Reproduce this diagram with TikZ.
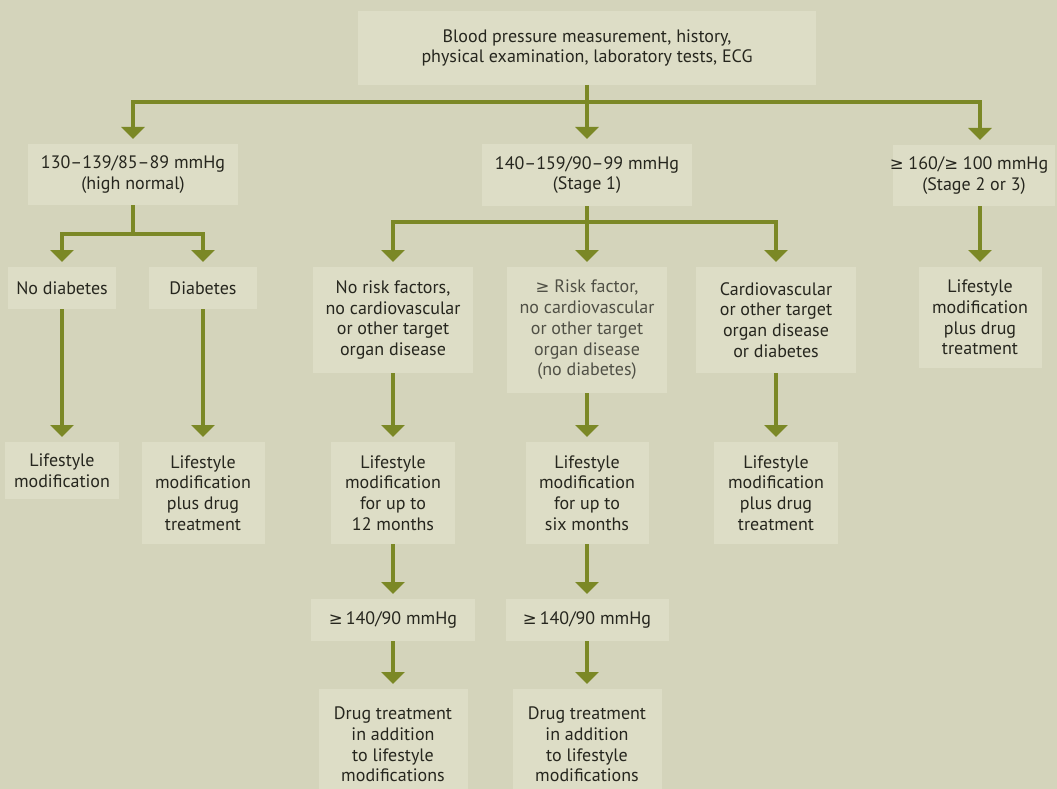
\documentclass[tikz,border=0pt]{standalone}
\usepackage{fontspec}
\setmainfont{PT Sans}
\newfontfamily\dvsym[Scale=0.92]{DejaVu Sans}
\newcommand\mygeq{{\dvsym ≥}}
\usetikzlibrary{arrows.meta}
\definecolor{bgc}{RGB}{212,212,187}
\definecolor{boxc}{RGB}{221,221,198}
\definecolor{arrc}{RGB}{123,136,38}
\definecolor{txtc}{RGB}{38,38,30}
\definecolor{greytxt}{RGB}{80,80,70}
\tikzset{
  box/.style={fill=boxc, draw=none, inner sep=0pt, align=center, text=txtc,
    font=\fontsize{18}{20.7}\selectfont, outer sep=0pt},
  arr/.style={draw=arrc, line width=4.5pt, shorten >=5pt,
    -{Triangle[width=23pt,length=12pt]}},
}
\begin{document}
\begin{tikzpicture}[x=1pt,y=-1pt]
\clip (0,0) rectangle (1057,789);
\fill[bgc] (0,0) rectangle (1057,789);
% level 1
\node[box, minimum width=458pt, minimum height=74pt] (top) at (587,48)
  {Blood pressure measurement, history,\\physical examination, laboratory tests, ECG};
% level 2
\node[box, minimum width=210pt, minimum height=61pt] (hn) at (133,174.5)
  {130–139/85–89 mmHg\\(high normal)};
\node[box, minimum width=210pt, minimum height=62pt] (s1) at (587,175)
  {140–159/90–99 mmHg\\(Stage 1)};
\node[box, minimum width=162pt, minimum height=61pt] (s2) at (974,175.5)
  {\makebox[150pt]{\hspace*{-10pt}\mygeq\ 160/\mygeq\ 100 mmHg}\\(Stage 2 or 3)};
% level 3
\node[box, minimum width=108pt, minimum height=42pt] (nod) at (62,288) {No diabetes};
\node[box, minimum width=108pt, minimum height=42pt] (dia) at (203,288) {Diabetes};
\node[box, minimum width=160pt, minimum height=106pt] (nrf) at (393,320)
  {No risk factors,\\no cardiovascular\\or other target\\organ disease};
\node[box, minimum width=160pt, minimum height=126pt, text=greytxt] (rf) at (587,330)
  {\mygeq\ Risk factor,\\no cardiovascular\\or other target\\organ disease\\(no diabetes)};
\node[box, minimum width=160pt, minimum height=106pt] (cvd) at (776,320)
  {Cardiovascular\\or other target\\organ disease\\or diabetes};
\node[box, minimum width=123pt, minimum height=101pt] (s2l) at (980,317.5)
  {Lifestyle\\modification\\plus drug\\treatment};
% level 4
\node[box, minimum width=114pt, minimum height=57pt] (lm) at (62,470.5)
  {Lifestyle\\modification};
\node[box, minimum width=123pt, minimum height=102pt] (lmd) at (203,493)
  {Lifestyle\\modification\\plus drug\\treatment};
\node[box, minimum width=124pt, minimum height=102pt] (l12) at (393,493)
  {Lifestyle\\modification\\for up to\\12 months};
\node[box, minimum width=123pt, minimum height=102pt] (l6) at (587,493)
  {Lifestyle\\modification\\for up to\\six months};
\node[box, minimum width=124pt, minimum height=102pt] (lcv) at (776,493)
  {Lifestyle\\modification\\plus drug\\treatment};
% level 5
\node[box, minimum width=164pt, minimum height=42pt] (t1) at (393,620) {\mygeq\,140/90 mmHg};
\node[box, minimum width=163pt, minimum height=42pt] (t2) at (587,620) {\mygeq\,140/90 mmHg};
% level 6
\node[box, minimum width=149pt, minimum height=111pt] (d1) at (393,744.5)
  {Drug treatment\\in addition\\to lifestyle\\modifications};
\node[box, minimum width=149pt, minimum height=111pt] (d2) at (587,744.5)
  {Drug treatment\\in addition\\to lifestyle\\modifications};
% connectors
\coordinate (bus) at (587,102);
\coordinate (hb) at (133,234);
\coordinate (sb) at (587,222);
\draw[arr] (top.south) -- (s1.north);
\draw[arr] (bus) -| (hn.north);
\draw[arr] (bus) -| ([xshift=6pt]s2.north);
\draw[arr] (hn.south) -- (hb) -| (nod.north);
\draw[arr] (hb) -| (dia.north);
\draw[arr] (s1.south) -- (rf.north);
\draw[arr] (sb) -| (nrf.north);
\draw[arr] (sb) -| (cvd.north);
\draw[arr] ([xshift=6pt]s2.south) -- (s2l.north);
\draw[arr] (nod.south) -- (lm.north);
\draw[arr] (dia.south) -- (lmd.north);
\draw[arr] (nrf.south) -- (l12.north);
\draw[arr] (rf.south) -- (l6.north);
\draw[arr] (cvd.south) -- (lcv.north);
\draw[arr] (l12.south) -- (t1.north);
\draw[arr] (l6.south) -- (t2.north);
\draw[arr] (t1.south) -- (d1.north);
\draw[arr] (t2.south) -- (d2.north);
\end{tikzpicture}
\end{document}
